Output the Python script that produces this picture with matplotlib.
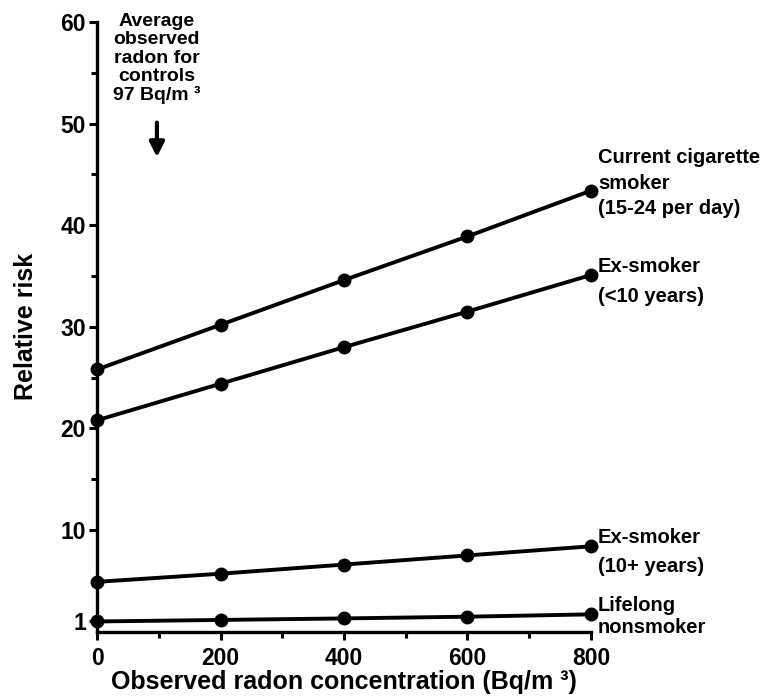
import numpy as np
import matplotlib.pyplot as plt
from matplotlib.ticker import FixedLocator

plt.rcParams['font.family'] = ['Liberation Sans', 'DejaVu Sans']
plt.rcParams['font.weight'] = 'bold'

# Data
radon = [0, 200, 400, 600, 800]
current_smoker = [25.8, 30.2, 34.6, 38.9, 43.4]
ex_smoker_recent = [20.8, 24.4, 28.0, 31.5, 35.1]
ex_smoker_10plus = [4.9, 5.7, 6.6, 7.5, 8.4]
never_smoker = [1.0, 1.15, 1.3, 1.47, 1.7]

series = [current_smoker, ex_smoker_recent, ex_smoker_10plus, never_smoker]
labels = ['Current cigarette\nsmoker\n(15-24 per day)',
          'Ex-smoker\n(<10 years)',
          'Ex-smoker\n(10+ years)',
          'Lifelong\nnonsmoker']
label_dy = [7.5, -6.5, -5.5, -2.5]      # pixel offsets of the end labels
label_spacing = [1.42, 1.68, 1.68, 1.21]

y_ticks = [1, 10, 20, 30, 40, 50, 60]
x_ticks = [0, 200, 400, 600, 800]
control_mean = 97

fig = plt.figure(figsize=(7.67, 6.97), dpi=100)
ax = fig.add_axes([0.1265, 0.0938, 0.644, 0.8746])

for vals, lab, dy, ls in zip(series, labels, label_dy, label_spacing):
    ax.plot(radon, vals, color='black', lw=2.8, marker='o', ms=9,
            clip_on=False, zorder=3)
    ax.annotate(lab, xy=(radon[-1], vals[-1]), xytext=(7, dy),
                textcoords='offset pixels', ha='left', va='center',
                fontsize=14.5, fontweight='bold', linespacing=ls,
                annotation_clip=False)

ax.set_xlim(0, 800)
ax.set_ylim(0, 60)
ax.set_xticks(x_ticks)
ax.set_yticks(y_ticks)
ax.xaxis.set_minor_locator(FixedLocator([100, 300, 500, 700]))
ax.yaxis.set_minor_locator(FixedLocator(np.arange(5, 60, 10)))
ax.tick_params(axis='both', which='major', length=6, width=2.2,
               labelsize=16.5, direction='out')
ax.tick_params(axis='both', which='minor', length=4, width=2.2,
               direction='out')
ax.tick_params(axis='y', pad=2)
ax.tick_params(axis='x', pad=5)
for t in ax.get_xticklabels() + ax.get_yticklabels():
    t.set_fontweight('bold')

for side in ['top', 'right']:
    ax.spines[side].set_visible(False)
for side in ['left', 'bottom']:
    ax.spines[side].set_linewidth(2.4)

ax.set_xlabel('Observed radon concentration (Bq/m \u00b3)', fontsize=18,
              fontweight='bold', va='center')
ax.xaxis.set_label_coords(0.5, -0.083)
ax.set_ylabel('Relative risk', fontsize=18, fontweight='bold', va='center')
ax.yaxis.set_label_coords(-0.144, 0.5)

# Average observed radon for controls
ax.annotate('', xy=(control_mean, 46.7), xytext=(control_mean, 50.1),
            arrowprops=dict(arrowstyle='-|>', color='black', lw=3,
                            mutation_scale=22, shrinkA=0, shrinkB=0))
ax.text(control_mean, 56.4,
        'Average\nobserved\nradon for\ncontrols\n97 Bq/m \u00b3',
        ha='center', va='center', fontsize=14, fontweight='bold',
        linespacing=1.1, clip_on=False)

fig.savefig('out.png', dpi=100)
